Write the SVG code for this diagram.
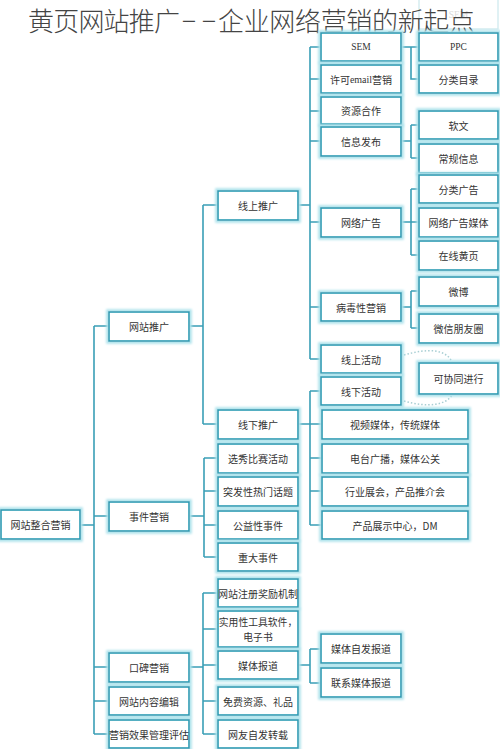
<svg xmlns="http://www.w3.org/2000/svg" width="500" height="749" viewBox="0 0 500 749">
<defs>
<filter id="glow" x="-10%" y="-20%" width="120%" height="140%">
<feMorphology in="SourceAlpha" operator="dilate" radius="1.5" result="d"/>
<feGaussianBlur in="d" stdDeviation="1" result="b"/>
<feFlood flood-color="#aee3ec"/>
<feComposite in2="b" operator="in" result="g"/>
<feMerge><feMergeNode in="g"/><feMergeNode in="SourceGraphic"/></feMerge>
</filter>
</defs>
<style>
.b{fill:#fff;stroke:#2a9bb3;stroke-width:1.6;filter:url(#glow)}
.t{font-family:"Noto Sans CJK SC","Noto Sans",sans-serif;font-size:10px;fill:#333;text-anchor:middle;dominant-baseline:central}
.s{font-family:"Liberation Serif","Noto Sans CJK SC",serif}
.c{fill:none;stroke:#3a9fb6;stroke-width:1.6}
.d{fill:none;stroke:#a9cfd4;stroke-width:1.5;stroke-dasharray:1.5 2}
.title{font-family:"Noto Sans CJK SC",sans-serif;font-weight:300;font-size:26px;fill:#444}
</style>
<rect width="500" height="749" fill="#fff"/>

<g id="ghost">
<rect x="419" y="-2" width="79" height="31" fill="#fff" stroke="#d3ebef" stroke-width="1.4"/>
<text class="t s" x="458.5" y="15" style="fill:#dadada;font-size:9.5px">SEM</text>
</g>

<g id="title">
<text class="title" x="28" y="31" textLength="152" lengthAdjust="spacing">黄页网站推广</text>
<text class="title" x="189" y="31" text-anchor="middle">−</text>
<text class="title" x="209" y="31" text-anchor="middle">−</text>
<text class="title" x="218" y="31" textLength="257" lengthAdjust="spacing">企业网络营销的新起点</text>
</g>

<g id="connectors">
<path class="c" d="M80,525H94M94,326V734M94,326H109M94,516H109M94,667H109M94,701H109M94,734H109"/>
<path class="c" d="M189,326H203M203,205V424M203,205H218M203,424H218"/>
<path class="c" d="M298,205H310M310,47V359M310,47H321M310,79H321M310,111H321M310,141H321M310,222H321M310,307H321M310,359H321"/>
<path class="c" d="M401,47H419M411,47V79H419"/>
<path class="c" d="M401,141H411M411,125V158M411,125H419M411,158H419"/>
<path class="c" d="M401,222H411M411,189V255M411,189H419M411,222H419M411,255H419"/>
<path class="c" d="M401,307H411M411,291V328M411,291H419M411,328H419"/>
<path class="c" d="M298,424H310M310,391V525M310,391H321M310,424H322M310,458H322M310,491H322M310,525H322"/>
<path class="c" d="M189,516H204M204,458V557M204,458H218M204,491H218M204,525H218M204,557H218"/>
<path class="c" d="M189,667H203M203,593V734M203,593H218M203,629H218M203,665H218M203,701H218M203,734H218"/>
<path class="c" d="M298,665H310M310,649V683M310,649H321M310,683H321"/>
<path class="d" d="M404,355C428,348 446,349 452,362"/>
<path class="d" d="M404,401C428,408 446,405 452,395"/>
</g>

<g id="n0"><rect class="b" x="1" y="510" width="79" height="29"/><text class="t" x="40.5" y="524.5">网站整合营销</text></g>

<g id="n1"><rect class="b" x="109" y="312" width="80" height="29"/><text class="t" x="149" y="326.5">网站推广</text></g>
<g id="n2"><rect class="b" x="109" y="502" width="80" height="29"/><text class="t" x="149" y="516.5">事件营销</text></g>
<g id="n3"><rect class="b" x="109" y="653" width="80" height="29"/><text class="t" x="149" y="667.5">口碑营销</text></g>
<g id="n4"><rect class="b" x="109" y="687" width="80" height="28"/><text class="t" x="149" y="701">网站内容编辑</text></g>
<g id="n5"><rect class="b" x="109" y="720" width="80" height="28"/><text class="t" x="149" y="734">营销效果管理评估</text></g>

<g id="n6"><rect class="b" x="218" y="191" width="80" height="29"/><text class="t" x="258" y="205.5">线上推广</text></g>
<g id="n7"><rect class="b" x="218" y="410" width="80" height="29"/><text class="t" x="258" y="424.5">线下推广</text></g>
<g id="n8"><rect class="b" x="218" y="444" width="80" height="29"/><text class="t" x="258" y="458.5">选秀比赛活动</text></g>
<g id="n9"><rect class="b" x="218" y="477" width="80" height="29"/><text class="t" x="258" y="491.5">突发性热门话题</text></g>
<g id="n10"><rect class="b" x="218" y="511" width="80" height="28"/><text class="t" x="258" y="525">公益性事件</text></g>
<g id="n11"><rect class="b" x="218" y="543" width="80" height="28"/><text class="t" x="258" y="557">重大事件</text></g>
<g id="n12"><rect class="b" x="218" y="579" width="80" height="28"/><text class="t" x="258" y="593">网站注册奖励机制</text></g>
<g id="n13"><rect class="b" x="218" y="611" width="80" height="36"/><text class="t" x="258" y="622" style="font-size:9.8px">实用性工具软件，</text><text class="t" x="258" y="637" style="font-size:9.8px">电子书</text></g>
<g id="n14"><rect class="b" x="218" y="651" width="80" height="28"/><text class="t" x="258" y="665">媒体报道</text></g>
<g id="n15"><rect class="b" x="218" y="687" width="80" height="28"/><text class="t" x="258" y="701">免费资源、礼品</text></g>
<g id="n16"><rect class="b" x="218" y="720" width="80" height="28"/><text class="t" x="258" y="734">网友自发转载</text></g>

<g id="n17"><rect class="b" x="321" y="33" width="80" height="28"/><text class="t s" x="361" y="47" style="font-size:9.5px">SEM</text></g>
<g id="n18"><rect class="b" x="321" y="65" width="80" height="28"/><text class="t" x="361" y="79">许可<tspan class="s">email</tspan>营销</text></g>
<g id="n19"><rect class="b" x="321" y="97" width="80" height="27"/><text class="t" x="361" y="110.5">资源合作</text></g>
<g id="n20"><rect class="b" x="321" y="127" width="80" height="29"/><text class="t" x="361" y="141.5">信息发布</text></g>
<g id="n21"><rect class="b" x="321" y="208" width="80" height="29"/><text class="t" x="361" y="222.5">网络广告</text></g>
<g id="n22"><rect class="b" x="321" y="293" width="80" height="28"/><text class="t" x="361" y="307">病毒性营销</text></g>
<g id="n23"><rect class="b" x="321" y="345" width="80" height="28"/><text class="t" x="361" y="359">线上活动</text></g>
<g id="n24"><rect class="b" x="321" y="377" width="80" height="28"/><text class="t" x="361" y="391">线下活动</text></g>
<g id="n25"><rect class="b" x="322" y="410" width="146" height="29"/><text class="t" x="395" y="424.5">视频媒体，传统媒体</text></g>
<g id="n26"><rect class="b" x="322" y="444" width="146" height="29"/><text class="t" x="395" y="458.5">电台广播，媒体公关</text></g>
<g id="n27"><rect class="b" x="322" y="477" width="146" height="29"/><text class="t" x="395" y="491.5">行业展会，产品推介会</text></g>
<g id="n28"><rect class="b" x="322" y="511" width="146" height="28"/><text class="t" x="395" y="525">产品展示中心，DM</text></g>
<g id="n29"><rect class="b" x="321" y="634" width="80" height="29"/><text class="t" x="361" y="648.5">媒体自发报道</text></g>
<g id="n30"><rect class="b" x="321" y="668" width="80" height="29"/><text class="t" x="361" y="682.5">联系媒体报道</text></g>

<g id="n31"><rect class="b" x="419" y="33" width="79" height="28"/><text class="t s" x="458.5" y="47" style="font-size:9.5px">PPC</text></g>
<g id="n32"><rect class="b" x="419" y="65" width="79" height="28"/><text class="t" x="458.5" y="79">分类目录</text></g>
<g id="n33"><rect class="b" x="419" y="111" width="79" height="28"/><text class="t" x="458.5" y="125">软文</text></g>
<g id="n34"><rect class="b" x="419" y="144" width="79" height="29"/><text class="t" x="458.5" y="158.5">常规信息</text></g>
<g id="n35"><rect class="b" x="419" y="175" width="79" height="28"/><text class="t" x="458.5" y="189">分类广告</text></g>
<g id="n36"><rect class="b" x="419" y="208" width="79" height="29"/><text class="t" x="458.5" y="222.5">网络广告媒体</text></g>
<g id="n37"><rect class="b" x="419" y="241" width="79" height="29"/><text class="t" x="458.5" y="255.5">在线黄页</text></g>
<g id="n38"><rect class="b" x="419" y="277" width="79" height="29"/><text class="t" x="458.5" y="291.5">微博</text></g>
<g id="n39"><rect class="b" x="419" y="314" width="79" height="29"/><text class="t" x="458.5" y="328.5">微信朋友圈</text></g>
<g id="n40"><rect class="b" x="419" y="363" width="79" height="31"/><text class="t" x="458.5" y="378.5">可协同进行</text></g>
</svg>
